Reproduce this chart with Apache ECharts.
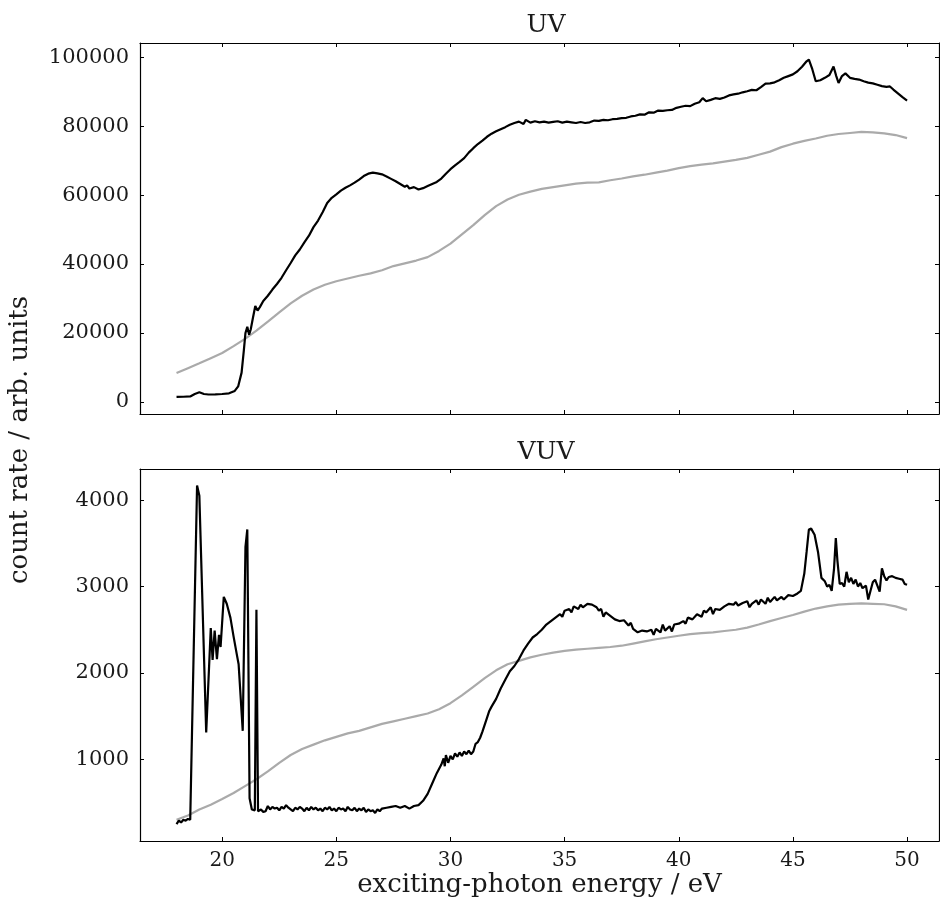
<!DOCTYPE html>
<html>
<head>
<meta charset="utf-8">
<script src="https://cdn.jsdelivr.net/npm/echarts@6/dist/echarts.min.js"></script>
<style>
  html, body { margin: 0; padding: 0; background: #fff; }
  #chart { width: 940px; height: 905px; }
</style>
</head>
<body>
<div id="chart"></div>
<script>
// UV panel, measured curve (black)
var uvX = [18.0,18.3,18.6,18.8,19.0,19.2,19.4,19.7,20.0,20.3,20.55,20.7,20.85,20.95,21.02,21.1,21.18,21.25,21.35,21.45,21.55,21.65,21.8,22.0,22.2,22.4,22.6,22.8,23.0,23.2,23.4,23.6,23.8,24.0,24.2,24.4,24.6,24.8,25.0,25.2,25.4,25.6,25.8,26.0,26.2,26.4,26.6,26.8,27.0,27.2,27.4,27.6,27.8,28.0,28.1,28.2,28.4,28.6,28.8,29.0,29.2,29.4,29.6,29.8,30.0,30.2,30.4,30.6,30.8,31.0,31.2,31.4,31.6,31.8,32.0,32.2,32.4,32.6,32.8,33.0,33.2,33.3,33.5,33.7,33.9,34.1,34.3,34.5,34.7,34.9,35.1,35.3,35.5,35.7,35.9,36.1,36.3,36.5,36.7,36.9,37.1,37.3,37.5,37.7,37.9,38.1,38.3,38.5,38.7,38.9,39.1,39.3,39.5,39.7,39.9,40.1,40.3,40.5,40.7,40.9,41.05,41.2,41.4,41.6,41.8,42.0,42.2,42.4,42.6,42.8,43.0,43.2,43.4,43.6,43.8,44.0,44.2,44.4,44.6,44.8,45.0,45.2,45.4,45.6,45.7,45.85,46.0,46.2,46.4,46.6,46.78,46.9,47.0,47.15,47.3,47.5,47.7,47.9,48.1,48.3,48.5,48.7,48.9,49.1,49.25,49.4,49.6,49.8,50.0];
var uvY = [1450,1500,1600,2300,2800,2300,2150,2200,2300,2500,3200,4500,8500,15000,20000,21800,19500,21000,24500,27800,26500,27500,29300,30800,32600,34200,36000,38200,40300,42500,44200,46300,48200,50700,52600,55000,57700,59200,60200,61300,62100,62800,63600,64500,65500,66200,66500,66300,66000,65400,64700,64000,63200,62400,62800,61900,62300,61600,62000,62600,63200,63800,64800,66200,67500,68600,69600,70700,72300,73600,74800,75800,76900,77800,78500,79100,79700,80400,80900,81300,80600,81800,81000,81400,81100,81300,81000,81200,81400,81000,81300,81100,80900,81200,80900,81100,81600,81500,81800,81700,82000,82100,82300,82400,82800,83000,83400,83300,84000,83900,84500,84400,84600,84700,85300,85600,85900,85800,86500,86900,88100,87200,87600,88100,87900,88300,88900,89200,89400,89800,90100,90500,90400,91300,92300,92400,92700,93300,94000,94500,95000,95900,97200,98800,99300,96500,93000,93300,94000,94800,97300,94500,92500,94500,95300,94000,93700,93500,93000,92600,92400,92000,91600,91400,91500,90600,89500,88400,87400];

// UV panel, reference curve (grey)
var uvRefX = [18.0,18.5,19.0,19.5,20.0,20.5,21.0,21.5,22.0,22.5,23.0,23.5,24.0,24.5,25.0,25.5,26.0,26.5,27.0,27.5,28.0,28.5,29.0,29.5,30.0,30.5,31.0,31.5,32.0,32.5,33.0,33.5,34.0,34.5,35.0,35.5,36.0,36.5,37.0,37.5,38.0,38.5,39.0,39.5,40.0,40.5,41.0,41.5,42.0,42.5,43.0,43.5,44.0,44.5,45.0,45.5,46.0,46.5,47.0,47.5,48.0,48.5,49.0,49.5,50.0];
var uvRefY = [8400,9800,11200,12700,14200,16200,18300,20700,23300,26000,28600,30800,32600,34000,35000,35800,36600,37300,38200,39400,40200,41000,42000,43800,45900,48600,51300,54200,56800,58700,60100,61000,61800,62300,62800,63300,63600,63700,64300,64800,65400,65900,66500,67100,67800,68400,68800,69200,69700,70200,70800,71700,72600,73900,74900,75700,76400,77200,77700,78000,78300,78200,77900,77400,76500];

// VUV panel, measured curve (black)
var vuvX = [18.0,18.1,18.2,18.3,18.4,18.5,18.6,18.9,19.0,19.3,19.5,19.58,19.67,19.77,19.86,19.93,20.07,20.2,20.36,20.5,20.65,20.72,20.9,21.02,21.1,21.2,21.3,21.43,21.5,21.57,21.7,21.8,21.9,22.0,22.1,22.2,22.3,22.4,22.5,22.6,22.7,22.8,22.9,23.0,23.1,23.2,23.3,23.4,23.5,23.6,23.7,23.8,23.9,24.0,24.1,24.2,24.3,24.4,24.5,24.6,24.7,24.8,24.9,25.0,25.1,25.2,25.3,25.4,25.5,25.6,25.7,25.8,25.9,26.0,26.1,26.2,26.3,26.4,26.5,26.6,26.7,26.8,26.9,27.0,27.2,27.4,27.6,27.8,28.0,28.2,28.4,28.6,28.8,29.0,29.2,29.4,29.6,29.7,29.75,29.8,29.9,30.0,30.1,30.2,30.3,30.4,30.5,30.6,30.7,30.8,30.9,31.0,31.1,31.2,31.3,31.4,31.6,31.7,31.8,32.0,32.2,32.4,32.6,32.8,33.0,33.2,33.4,33.6,33.8,34.0,34.2,34.4,34.6,34.8,34.9,35.0,35.2,35.3,35.4,35.6,35.7,35.8,36.0,36.2,36.4,36.5,36.6,36.7,36.8,37.0,37.2,37.4,37.6,37.8,37.9,38.0,38.2,38.4,38.6,38.8,38.9,39.0,39.2,39.3,39.4,39.6,39.7,39.8,40.0,40.2,40.3,40.4,40.6,40.8,41.0,41.1,41.2,41.4,41.5,41.6,41.8,42.0,42.2,42.4,42.5,42.6,42.8,43.0,43.1,43.2,43.4,43.5,43.6,43.8,43.9,44.0,44.2,44.3,44.5,44.6,44.8,45.0,45.2,45.35,45.5,45.6,45.7,45.8,45.95,46.1,46.25,46.4,46.5,46.6,46.7,46.8,46.88,46.95,47.05,47.15,47.25,47.35,47.45,47.55,47.65,47.75,47.85,47.95,48.05,48.2,48.3,48.4,48.5,48.6,48.7,48.8,48.9,49.0,49.1,49.2,49.35,49.5,49.65,49.8,49.9,50.0];
var vuvY = [250,290,270,300,290,310,300,4170,4050,1310,2520,2150,2490,2160,2440,2300,2880,2800,2640,2420,2200,2100,1330,3460,3660,550,420,410,2730,400,420,390,400,460,420,450,430,440,410,450,430,470,440,420,400,440,420,450,430,400,440,410,450,420,440,410,430,400,440,420,450,410,430,400,440,420,430,400,450,420,410,440,400,430,410,440,390,420,400,410,380,420,400,430,440,450,460,440,460,430,460,470,520,600,720,840,940,1010,920,1050,960,1040,1000,1070,1030,1080,1040,1090,1060,1100,1060,1090,1180,1200,1250,1320,1480,1560,1610,1700,1820,1920,2020,2080,2160,2260,2340,2410,2450,2500,2560,2600,2640,2680,2650,2720,2740,2700,2770,2740,2790,2760,2800,2790,2760,2720,2740,2650,2700,2660,2620,2600,2610,2550,2580,2510,2470,2490,2480,2500,2440,2510,2470,2560,2490,2540,2480,2560,2570,2600,2570,2640,2620,2680,2650,2720,2700,2760,2680,2740,2730,2770,2800,2790,2820,2780,2810,2830,2760,2800,2840,2790,2850,2800,2870,2820,2880,2840,2880,2850,2900,2890,2920,2950,3150,3400,3660,3670,3600,3400,3100,3060,3000,3020,2950,3200,3560,3300,3030,3040,3000,3170,3050,3100,3030,3080,3000,3040,2980,3010,2850,2950,3050,3080,3010,2940,3210,3120,3070,3110,3120,3100,3090,3080,3030,3020];

// VUV panel, reference curve (grey)
var vuvRefX = uvRefX;
var vuvRefY = [300,350,420,475,540,610,690,770,860,960,1050,1120,1170,1220,1260,1300,1330,1370,1410,1440,1470,1500,1530,1580,1650,1740,1840,1940,2030,2100,2140,2180,2210,2235,2255,2270,2280,2290,2300,2315,2340,2365,2390,2410,2430,2450,2460,2470,2485,2500,2525,2560,2600,2635,2670,2710,2745,2770,2790,2800,2805,2800,2795,2770,2730];

var xTicks = [20, 25, 30, 35, 40, 45, 50];
var uvTicks = [0, 20000, 40000, 60000, 80000, 100000];
var vuvTicks = [1000, 2000, 3000, 4000];

function pairs(xs, ys) {
  return xs.map(function (x, i) { return [x, ys[i]]; });
}

var FONT = 'DejaVu Serif';
var TXT = '#1a1a1a';

function plain(v) { return String(v); }

function xAxisCfg(grid, pos, labels) {
  return {
    type: 'value', gridIndex: grid, position: pos,
    min: 16.4, max: 51.4, interval: 5,
    axisLine: { show: true, onZero: false, lineStyle: { color: '#000', width: 1.2 } },
    axisTick: { show: true, inside: true, length: 4, lineStyle: { color: '#000' },
      customValues: xTicks },
    axisLabel: { show: labels, fontFamily: FONT, fontSize: 20, color: TXT, margin: 10,
      customValues: xTicks, formatter: plain },
    splitLine: { show: false }
  };
}

function yAxisCfg(grid, pos, min, max, ticks, labels) {
  return {
    type: 'value', gridIndex: grid, position: pos,
    min: min, max: max,
    axisLine: { show: true, onZero: false, lineStyle: { color: '#000', width: 1.2 } },
    axisTick: { show: true, inside: true, length: 4, lineStyle: { color: '#000' },
      customValues: ticks },
    axisLabel: { show: labels, fontFamily: FONT, fontSize: 21, color: TXT, margin: 11,
      customValues: ticks, formatter: plain },
    splitLine: { show: false }
  };
}

var myChart = echarts.init(document.getElementById('chart'), null, { renderer: 'canvas' });

var bottomX = xAxisCfg(1, 'bottom', true);
bottomX.name = 'exciting-photon energy / eV';
bottomX.nameLocation = 'middle';
bottomX.nameGap = 30;
bottomX.nameTextStyle = { fontFamily: FONT, fontSize: 26, color: TXT };

var option = {
  animation: false,
  backgroundColor: '#fff',
  title: [
    { text: 'UV', left: 541, top: 8, textAlign: 'center',
      textStyle: { fontFamily: FONT, fontSize: 25, fontWeight: 'normal', color: TXT } },
    { text: 'VUV', left: 541, top: 435, textAlign: 'center',
      textStyle: { fontFamily: FONT, fontSize: 25, fontWeight: 'normal', color: TXT } }
  ],
  graphic: [{
    type: 'text', x: 20, y: 440, rotation: Math.PI / 2,
    style: { text: 'count rate / arb. units', font: '26px "DejaVu Serif"', fill: TXT,
      textAlign: 'center', textVerticalAlign: 'middle' }
  }],
  grid: [
    { left: 140, top: 43, width: 799, height: 371 },
    { left: 140, top: 469, width: 799, height: 372 }
  ],
  xAxis: [
    xAxisCfg(0, 'bottom', false),
    bottomX,
    xAxisCfg(0, 'top', false),
    xAxisCfg(1, 'top', false)
  ],
  yAxis: [
    yAxisCfg(0, 'left', -3500, 104100, uvTicks, true),
    yAxisCfg(1, 'left', 55, 4360, vuvTicks, true),
    yAxisCfg(0, 'right', -3500, 104100, uvTicks, false),
    yAxisCfg(1, 'right', 55, 4360, vuvTicks, false)
  ],
  series: [
    { name: 'UV ref', type: 'line', xAxisIndex: 0, yAxisIndex: 0, showSymbol: false,
      lineStyle: { color: '#aaaaaa', width: 2.2 }, data: pairs(uvRefX, uvRefY) },
    { name: 'UV', type: 'line', xAxisIndex: 0, yAxisIndex: 0, showSymbol: false,
      lineStyle: { color: '#000', width: 2.2 }, data: pairs(uvX, uvY) },
    { name: 'VUV ref', type: 'line', xAxisIndex: 1, yAxisIndex: 1, showSymbol: false,
      lineStyle: { color: '#aaaaaa', width: 2.2 }, data: pairs(vuvRefX, vuvRefY) },
    { name: 'VUV', type: 'line', xAxisIndex: 1, yAxisIndex: 1, showSymbol: false,
      lineStyle: { color: '#000', width: 2.2 }, data: pairs(vuvX, vuvY) }
  ]
};

myChart.setOption(option);
</script>
</body>
</html>
